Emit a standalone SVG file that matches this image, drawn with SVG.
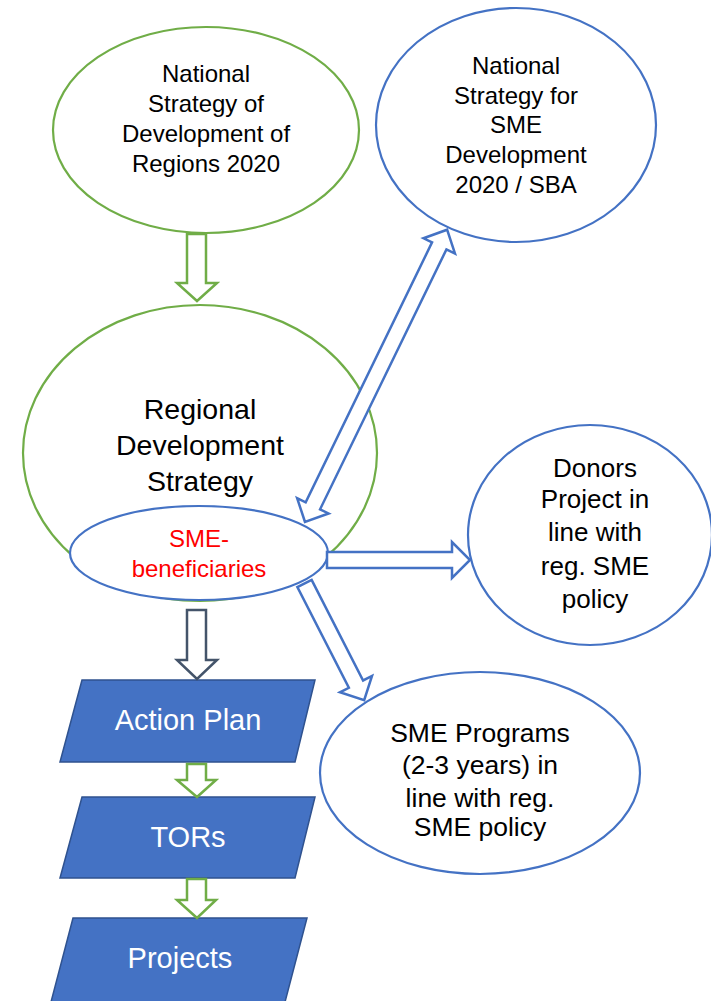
<svg xmlns="http://www.w3.org/2000/svg" width="711" height="1001" viewBox="0 0 711 1001">
<style>
.g{fill:#fff;stroke:#70AD47;stroke-width:2.2}
.b{fill:#fff;stroke:#4472C4;stroke-width:2.2}
.para{fill:#4472C4;stroke:#2F528F;stroke-width:1.5}
.ga{fill:#fff;stroke:#70AD47;stroke-width:2.5;stroke-linejoin:miter}
.ba{fill:#fff;stroke:#4472C4;stroke-width:2.5;stroke-linejoin:miter}
.da{fill:#fff;stroke:#44546A;stroke-width:2.5;stroke-linejoin:miter}
text{font-family:"Liberation Sans",Arial,sans-serif;text-anchor:middle;fill:#000}
.t24{font-size:24px}
.t26{font-size:26px}
.t265{font-size:26.5px}
.t28{font-size:28.5px}
.w{fill:#fff;font-size:29px}
.r{fill:#FF0000;font-size:24px}
</style>
<g id="node-national-regions">
<ellipse class="g" cx="206" cy="130" rx="153" ry="103"/>
<text class="t24"><tspan x="206" y="82">National</tspan><tspan x="206" y="112">Strategy of</tspan><tspan x="206" y="142">Development of</tspan><tspan x="206" y="172">Regions 2020</tspan></text>
</g>
<g id="node-national-sme">
<ellipse class="b" cx="516" cy="125" rx="140" ry="117"/>
<text class="t24"><tspan x="516" y="74">National</tspan><tspan x="516" y="104">Strategy for</tspan><tspan x="516" y="133">SME</tspan><tspan x="516" y="163">Development</tspan><tspan x="516" y="193">2020 / SBA</tspan></text>
</g>
<g id="node-regional">
<ellipse class="g" cx="200" cy="453" rx="177" ry="148"/>
<text class="t28"><tspan x="200" y="419">Regional</tspan><tspan x="200" y="455">Development</tspan><tspan x="200" y="491">Strategy</tspan></text>
</g>
<g id="node-sme-beneficiaries">
<ellipse class="b" cx="199" cy="553" rx="129" ry="47"/>
<text class="r"><tspan x="199" y="547">SME-</tspan><tspan x="199" y="577">beneficiaries</tspan></text>
</g>
<g id="node-donors">
<ellipse class="b" cx="590" cy="535" rx="122" ry="110"/>
<text class="t26"><tspan x="595" y="477">Donors</tspan><tspan x="595" y="508">Project in</tspan><tspan x="595" y="541">line with</tspan><tspan x="595" y="575">reg. SME</tspan><tspan x="595" y="608">policy</tspan></text>
</g>
<g id="node-sme-programs">
<ellipse class="b" cx="480" cy="773" rx="160" ry="101"/>
<text class="t265"><tspan x="480" y="742">SME Programs</tspan><tspan x="480" y="774">(2-3 years) in</tspan><tspan x="480" y="807">line with reg.</tspan><tspan x="480" y="836">SME policy</tspan></text>
</g>
<g id="node-action-plan">
<polygon class="para" points="82,680 315,680 295,762 60,762"/>
<text class="w" x="188" y="730">Action Plan</text>
</g>
<g id="node-tors">
<polygon class="para" points="82,797 315,797 295,878 60,878"/>
<text class="w" x="188" y="847">TORs</text>
</g>
<g id="node-projects">
<polygon class="para" points="73,918 307,918 285,1002 51,1002"/>
<text class="w" x="180" y="968">Projects</text>
</g>
<g id="connectors">
<polygon class="ga" points="187,234 206,234 206,283 217,283 197,301 177,283 187,283"/>
<polygon class="da" points="187,610 206,610 206,660 217,660 197,679 177,660 187,660"/>
<polygon class="ga" points="187,764 206,764 206,780 216,780 197,797 177,780 187,780"/>
<polygon class="ga" points="187,879 206,879 206,900 216,900 197,918 177,900 187,900"/>
<polygon class="ba" transform="translate(305,522) rotate(-64.07)" points="0,0 18,-17.5 18,-8 307,-8 307,-17.5 325,0 307,17.5 307,8 18,8 18,17.5"/>
<polygon class="ba" points="327,552 452,552 452,542 470,560 452,578 452,568 327,568"/>
<polygon class="ba" transform="translate(304.5,583.5) rotate(62.9)" points="0,-8 113,-8 113,-18 131,0 113,18 113,8 0,8"/>
</g>
</svg>
